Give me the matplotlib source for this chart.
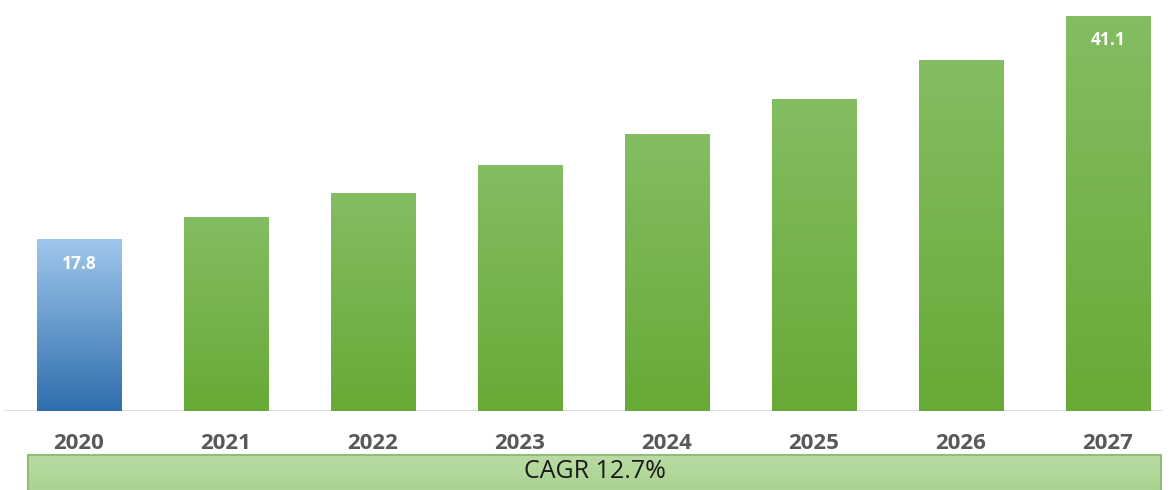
import matplotlib
matplotlib.use("Agg")
import matplotlib.pyplot as plt
import numpy as np
from matplotlib.colors import LinearSegmentedColormap
from matplotlib.patches import Rectangle

# data
years = ['2020', '2021', '2022', '2023', '2024', '2025', '2026', '2027']
values = [17.8, 20.1, 22.6, 25.5, 28.8, 32.4, 36.5, 41.1]
shown = {0: '17.8', 7: '41.1'}
cagr_text = 'CAGR 12.7%'

W, H = 1172, 490
fig = plt.figure(figsize=(W / 100, H / 100), dpi=100)

base_px = 79   # baseline height from bottom in px
ax = fig.add_axes([0, base_px / H, 1, 1 - base_px / H])
step = 147.0
x0 = 79.0
ax.set_xlim(-x0 / step, (W - x0) / step)
ax.set_ylim(0, (H - base_px) / 9.61)

blue = LinearSegmentedColormap.from_list('b', ['#2f6eae', '#9fc7ec'])
green = LinearSegmentedColormap.from_list('g', ['#67aa36', '#84bd62'])
grad = np.linspace(0, 1, 256).reshape(-1, 1)

bw = 0.575
for i, v in enumerate(values):
    cm = blue if i == 0 else green
    ax.imshow(grad, cmap=cm, origin='lower', aspect='auto',
              extent=(i - bw / 2, i + bw / 2, 0, v), zorder=2)
    if i in shown:
        ax.text(i, v - 2.5, shown[i], ha='center', va='center', color='white',
                fontsize=12.5, fontweight='bold', family='Open Sans', zorder=3)

ax.axhline(0, xmin=5 / W, xmax=1162 / W, color='#d9d9d9', lw=1.2, zorder=1)

ax.set_xticks(range(len(years)))
ax.set_xticklabels(years, fontsize=16, fontweight='bold', family='Open Sans',
                   color='#595959')
ax.tick_params(axis='x', length=0, pad=15.5)
ax.set_yticks([])
for s in ax.spines.values():
    s.set_visible(False)
ax.set_xlim(-x0 / step, (W - x0) / step)

# CAGR band
bx = fig.add_axes([28 / W, -2 / H, (1161 - 28) / W, 37 / H])
bx.imshow(grad, cmap=LinearSegmentedColormap.from_list('c', ['#a9d28f', '#b9dca4']),
          origin='lower', aspect='auto', extent=(0, 1, 0, 1))
bx.set_xlim(0, 1)
bx.set_ylim(0, 1)
bx.add_patch(Rectangle((0, 0), 1, 1, fill=False, ec='#92bd78', lw=1.5,
                       transform=bx.transAxes, clip_on=False))
bx.text(0.5, 0.55, cagr_text, ha='center', va='center', fontsize=18,
        family='Open Sans', color='#1a1a1a')
bx.axis('off')

fig.savefig('out.png', dpi=100)
